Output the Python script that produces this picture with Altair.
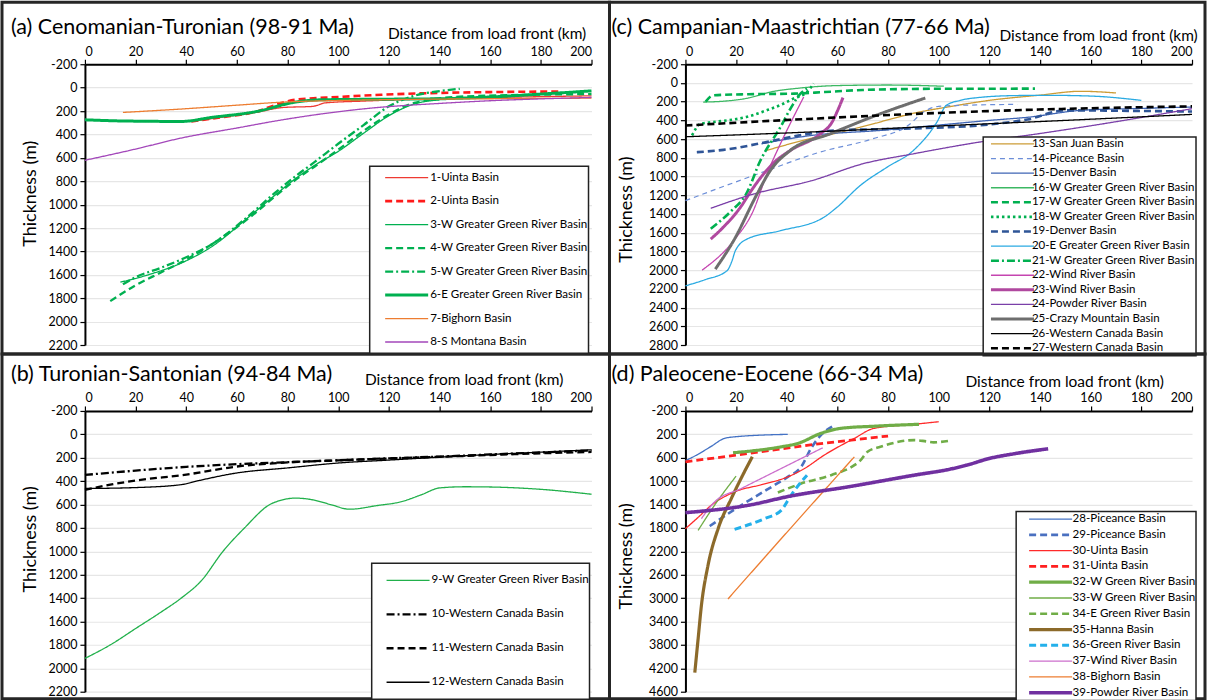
import altair as alt
import pandas as pd

FONT = "Lato"
X_TICKS = [0, 20, 40, 60, 80, 100, 120, 140, 160, 180, 200]
X_TITLE = "Distance from load front (km)"
Y_TITLE = "Thickness (m)"

# ---------------- Panel (a) ----------------
A_TITLE = "(a) Cenomanian-Turonian (98-91 Ma)"
A_NAMES = ["1-Uinta Basin", "2-Uinta Basin", "3-W Greater Green River Basin",
           "4-W Greater Green River Basin", "5-W Greater Green River Basin",
           "6-E Greater Green River Basin", "7-Bighorn Basin", "8-S Montana Basin"]
s01_x = [42, 55, 68, 78, 90, 95, 110, 130, 160, 200]
s01_y = [289, 250, 210, 170, 160, 130, 115, 100, 85, 70]
s02_x = [42, 55, 68, 75, 83, 100, 117, 140, 160, 187]
s02_y = [289, 250, 203, 150, 104, 80, 61, 45, 38, 33]
s03_x = [14, 25, 40, 50, 65, 75, 83, 91, 100, 110, 120, 130, 140]
s03_y = [1663, 1600, 1480, 1360, 1100, 920, 780, 660, 545, 390, 240, 140, 105]
s04_x = [10, 20, 30, 40, 50, 65, 75, 83, 91, 100, 110, 120, 130, 150, 200]
s04_y = [1825, 1690, 1580, 1470, 1340, 1110, 930, 790, 670, 530, 370, 230, 130, 75, 55]
s05_x = [15, 20, 30, 40, 50, 65, 75, 83, 91, 100, 110, 120, 130, 140, 148]
s05_y = [1680, 1620, 1540, 1450, 1340, 1090, 900, 760, 630, 480, 320, 160, 70, 30, 10]
s06_x = [0, 15, 38, 50, 68, 83, 93, 117, 140, 160, 180, 200]
s06_y = [275, 285, 289, 255, 203, 124, 104, 99, 95, 80, 55, 28]
s07_x = [15, 40, 60, 78, 100, 130, 160, 200]
s07_y = [212, 180, 150, 124, 110, 100, 95, 90]
s08_x = [0, 20, 38, 60, 78, 95, 113, 140, 160, 180, 200]
s08_y = [621, 525, 431, 345, 275, 220, 175, 135, 112, 96, 84]
A_COLORS = ["#ee3a32", "#ff1a1a", "#00b050", "#00b050", "#00b050", "#00b050", "#ed7d31", "#a347ba"]
A_DASHES = [[1, 0], [7, 4], [1, 0], [7, 4], [8, 3, 2, 3], [1, 0], [1, 0], [1, 0]]
A_WIDTHS = [1.3, 2.6, 1.3, 2.3, 2.3, 3.0, 1.3, 1.3]

# ---------------- Panel (b) ----------------
B_TITLE = "(b) Turonian-Santonian (94-84 Ma)"
B_NAMES = ["9-W Greater Green River Basin", "10-Western Canada Basin",
           "11-Western Canada Basin", "12-Western Canada Basin"]
s09_x = [0, 10, 20, 30, 38, 46, 54.5, 63, 73, 78, 83, 90, 97, 104.5, 115, 125, 133, 140, 150, 160, 180, 200]
s09_y = [1915, 1800, 1660, 1520, 1400, 1250, 1000, 800, 600, 560, 545, 560, 600, 640, 610, 575, 515, 458, 448, 450, 470, 512]
s10_x = [0, 20, 40, 60, 80, 100, 120, 140, 160, 180, 200]
s10_y = [347, 310, 278, 255, 238, 222, 205, 190, 172, 155, 137]
s11_x = [0, 10, 20, 40, 60, 80, 100, 120, 140, 160, 180, 200]
s11_y = [475, 430, 395, 344, 275, 240, 222, 207, 192, 177, 162, 150]
s12_x = [0, 20, 38, 45, 60, 80, 100, 120, 140, 160, 180, 200]
s12_y = [463, 455, 430, 395, 330, 287, 245, 220, 195, 172, 152, 132]
B_COLORS = ["#21b04b", "#000000", "#000000", "#000000"]
B_DASHES = [[1, 0], [8, 3, 2, 3], [7, 4], [1, 0]]
B_WIDTHS = [1.3, 2.3, 2.3, 1.3]

# ---------------- Panel (c) ----------------
C_TITLE = "(c) Campanian-Maastrichtian (77-66 Ma)"
C_NAMES = ["13-San Juan Basin", "14-Piceance Basin", "15-Denver Basin",
           "16-W Greater Green River Basin", "17-W Greater Green River Basin",
           "18-W Greater Green River Basin", "19-Denver Basin",
           "20-E Greater Green River Basin", "21-W Greater Green River Basin",
           "22-Wind River Basin", "23-Wind River Basin", "24-Powder River Basin",
           "25-Crazy Mountain Basin", "26-Western Canada Basin", "27-Western Canada Basin"]
s13_x = [32, 40, 50, 59, 75, 89.5, 105, 120, 140, 156, 170]
s13_y = [721, 660, 590, 540, 430, 327, 250, 186, 130, 89, 107]
s14_x = [0, 29, 53, 74, 88, 94, 100, 115, 131]
s14_y = [1257, 968, 740, 596, 453, 311, 250, 235, 229]
s15_x = [30, 50, 77, 100, 120, 136, 156, 180, 200]
s15_y = [650, 560, 507, 450, 400, 364, 293, 272, 257]
s16_x = [7, 15, 25, 33.5, 45, 60, 80, 102]
s16_y = [204, 195, 160, 97, 55, 28, 22, 35]
s17_x = [8, 11, 25, 43, 55, 70, 100, 138]
s17_y = [200, 132, 120, 114, 97, 75, 62, 61]
s18_x = [2.6, 6, 11, 24, 32, 38, 42.6, 48, 50.6]
s18_y = [561, 436, 418, 364, 293, 230, 168, 97, 7]
s19_x = [4.5, 15, 32, 45, 59, 75, 90, 120, 135, 150, 175, 200]
s19_y = [740, 715, 632, 560, 507, 495, 486, 443, 390, 293, 298, 305]
s20_x = [0, 8, 16.4, 18.4, 19.7, 24.3, 37.5, 54.6, 59.8, 69, 79.6, 90, 99.3, 103, 108.5, 116, 130, 143, 160, 180]
s20_y = [2168, 2100, 2007, 1900, 1793, 1668, 1579, 1436, 1329, 1096, 900, 721, 418, 239, 186, 155, 135, 132, 140, 186]
s21_x = [10, 18, 24, 29.6, 37.5, 42, 45.4, 48]
s21_y = [1557, 1370, 1186, 829, 472, 250, 114, 61]
s22_x = [6.6, 19, 26.8, 32.2, 37.5, 42, 46.7]
s22_y = [2000, 1686, 1364, 971, 650, 400, 150]
s23_x = [10, 15, 21.7, 26, 30.9, 35, 41.4, 53.3, 57.9, 60, 62.2]
s23_y = [1668, 1540, 1329, 1150, 971, 850, 721, 543, 418, 300, 157]
s24_x = [10, 27, 50, 70, 90, 116, 140, 165, 200]
s24_y = [1339, 1186, 1043, 864, 757, 632, 540, 436, 275]
s25_x = [11.8, 19, 28.3, 33.5, 41.4, 57.2, 77, 94.7]
s25_y = [1989, 1686, 1186, 936, 721, 543, 329, 161]
s26_x = [0, 64, 100, 150, 200]
s26_y = [575, 507, 460, 400, 336]
s27_x = [0, 50, 116, 160, 200]
s27_y = [455, 382, 304, 270, 250]
C_COLORS = ["#cc9c36", "#6c8ed8", "#3e64b4", "#3cb863", "#00b050", "#00b050", "#2f5597",
            "#2aaae2", "#00b050", "#c545b0", "#b0489f", "#7a3fa8", "#6e6e6e", "#000000", "#000000"]
C_DASHES = [[1, 0], [5, 4], [1, 0], [1, 0], [7, 4], [2.5, 3], [7, 4], [1, 0], [8, 3, 2, 3],
            [1, 0], [1, 0], [1, 0], [1, 0], [1, 0], [7, 4]]
C_WIDTHS = [1.3, 1.2, 1.3, 1.3, 2.6, 2.6, 2.6, 1.3, 2.6, 1.3, 3.0, 1.3, 3.0, 1.3, 2.6]

# ---------------- Panel (d) ----------------
D_TITLE = "(d) Paleocene-Eocene (66-34 Ma)"
D_NAMES = ["28-Piceance Basin", "29-Piceance Basin", "30-Uinta Basin", "31-Uinta Basin",
           "32-W Green River Basin", "33-W Green River Basin", "34-E Green River Basin",
           "35-Hanna Basin", "36-Green River Basin", "37-Wind River Basin",
           "38-Bighorn Basin", "39-Powder River Basin"]
s28_x = [0, 5, 10, 15.5, 20, 40.4]
s28_y = [650, 540, 410, 268, 240, 200]
s29_x = [9.6, 22, 32, 40.4, 45.7, 49.6, 53.5, 57.9]
s29_y = [1768, 1413, 1150, 927, 756, 440, 212, 69]
s30_x = [0, 5, 10.2, 19.4, 30, 40.4, 47, 54.8, 66.7, 74.5, 90.3, 100]
s30_y = [1813, 1620, 1413, 1184, 1060, 927, 784, 555, 268, 97, 28, -16]
s31_x = [0, 25, 51, 80]
s31_y = [670, 526, 372, 229]
s32_x = [18.8, 37.8, 44.4, 53.5, 61.4, 75, 92.2]
s32_y = [515, 413, 355, 183, 97, 60, 28]
s33_x = [5, 12, 20]
s33_y = [1842, 1380, 915]
s34_x = [36.5, 45.7, 57.5, 66.7, 69, 71.9, 77, 90.3, 95, 98, 104]
s34_y = [1195, 1041, 898, 727, 650, 498, 413, 298, 320, 337, 310]
s35_x = [3.7, 5, 6.3, 8.9, 12.9, 18.1, 22, 26.4]
s35_y = [4273, 3700, 3129, 2443, 1813, 1298, 950, 584]
s36_x = [19.4, 31.2, 37.8, 41.7, 45.7, 48]
s36_y = [1825, 1641, 1499, 1241, 1013, 898]
s37_x = [6.3, 11.5, 22, 37.8, 54.2]
s37_y = [1641, 1356, 1127, 784, 430]
s38_x = [16.8, 37.8, 66.7]
s38_y = [3014, 1985, 584]
s39_x = [0, 24.7, 41.7, 64, 90.3, 105, 111, 120, 130, 143.2]
s39_y = [1539, 1413, 1253, 1099, 898, 790, 727, 612, 530, 447]
D_COLORS = ["#4472c4", "#4a70c0", "#ff2a2a", "#ff2020", "#70ad47", "#70ad47", "#70ad47",
            "#8c6a2a", "#24b0ea", "#cc6fcc", "#ed7d31", "#7030a0"]
D_DASHES = [[1, 0], [7, 4], [1, 0], [7, 4], [1, 0], [1, 0], [7, 4], [1, 0], [7, 4],
            [1, 0], [1, 0], [1, 0]]
D_WIDTHS = [1.3, 2.6, 1.3, 2.8, 3.2, 1.3, 2.6, 3.2, 3.0, 1.3, 1.3, 3.6]

A_TICKS = list(range(-200, 2201, 200))
C_TICKS = list(range(-200, 2801, 200))
D_TICKS = list(range(-200, 4601, 400))

SYMBOL = "M-2.69,0H2.69"


def build_df(names, xs_list, ys_list):
    rows = []
    for n, xs, ys in zip(names, xs_list, ys_list):
        for x, y in zip(xs, ys):
            rows.append({"series": n, "km": x, "thk": y})
    return pd.DataFrame(rows)


def make_panel(title, names, xs_list, ys_list, colors, dashes, widths, ydom, yticks,
               xt, yt, leg, border):
    df = build_df(names, xs_list, ys_list)
    lines = alt.Chart(df).mark_line(interpolate="monotone").encode(
        x=alt.X("km:Q", scale=alt.Scale(domain=[0, 200], nice=False, zero=False),
                axis=alt.Axis(orient="top", values=X_TICKS, title=X_TITLE, grid=False,
                              titleX=xt[0], titleY=xt[1], titleAlign="center",
                              titleBaseline="middle", titleFontSize=15.5,
                              labelPadding=1)),
        y=alt.Y("thk:Q", scale=alt.Scale(domain=ydom, reverse=True, nice=False, zero=False),
                axis=alt.Axis(values=yticks, labelExpr="'' + datum.value", title=Y_TITLE,
                              grid=True, titleX=yt[0], titleY=yt[1], titleAngle=270,
                              titleAlign="center", titleBaseline="middle",
                              titleFontSize=18, labelPadding=3)),
        color=alt.Color("series:N", scale=alt.Scale(domain=names, range=colors),
                        legend=alt.Legend(title=None, orient="none", direction="vertical",
                                          legendX=leg["x"], legendY=leg["y"],
                                          symbolType=SYMBOL, symbolSize=256,
                                          symbolOffset=leg["so"], labelOffset=leg["lo"],
                                          clipHeight=leg["ch"], rowPadding=leg["rp"],
                                          padding=0,
                                          labelFontSize=leg["fs"], labelFont=FONT,
                                          labelColor="black", labelLimit=400,
                                          fillColor="white", strokeColor="#222222")),
        strokeDash=alt.StrokeDash("series:N", scale=alt.Scale(domain=names, range=dashes)),
        strokeWidth=alt.StrokeWidth("series:N",
                                    scale=alt.Scale(type="ordinal", domain=names, range=widths)),
    )
    frame = alt.Chart(pd.DataFrame({"k": [0]})).mark_rect(
        fill="transparent", stroke="#262626", strokeWidth=3
    ).encode(x=alt.value(border[0]), x2=alt.value(border[1]),
             y=alt.value(border[2]), y2=alt.value(border[3]))
    head = alt.Chart(pd.DataFrame({"t": [title]})).mark_text(
        align="left", baseline="middle", fontSize=21.5, font=FONT, color="black"
    ).encode(text="t:N", x=alt.value(-74), y=alt.value(-36))
    return alt.layer(frame, head, lines).properties(width=507, height=281)


pa = make_panel(A_TITLE, A_NAMES,
                [s01_x, s02_x, s03_x, s04_x, s05_x, s06_x, s07_x, s08_x],
                [s01_y, s02_y, s03_y, s04_y, s05_y, s06_y, s07_y, s08_y],
                A_COLORS, A_DASHES, A_WIDTHS, [-200, 2200], A_TICKS,
                (402, -31), (-54, 129),
                {"x": 285, "y": 102, "so": 27.5, "lo": 14, "ch": 23, "rp": 0.5, "fs": 11.6},
                (-83, 525, -62, 290))
pc = make_panel(C_TITLE, C_NAMES,
                [s13_x, s14_x, s15_x, s16_x, s17_x, s18_x, s19_x, s20_x, s21_x, s22_x,
                 s23_x, s24_x, s25_x, s26_x, s27_x],
                [s13_y, s14_y, s15_y, s16_y, s17_y, s18_y, s19_y, s20_y, s21_y, s22_y,
                 s23_y, s24_y, s25_y, s26_y, s27_y],
                C_COLORS, C_DASHES, C_WIDTHS, [-200, 2800], C_TICKS,
                (413, -29), (-59, 145),
                {"x": 298, "y": 72.8, "so": 19.8, "lo": 10, "ch": 14, "rp": 0.6, "fs": 11.5},
                (-76, 520, -62, 290))
pb = make_panel(B_TITLE, B_NAMES,
                [s09_x, s10_x, s11_x, s12_x], [s09_y, s10_y, s11_y, s12_y],
                B_COLORS, B_DASHES, B_WIDTHS, [-200, 2200], A_TICKS,
                (379, -31), (-54, 128),
                {"x": 287, "y": 152.5, "so": 26.9, "lo": 14, "ch": 34, "rp": 0, "fs": 11.6},
                (-83, 525, -57, 288))
pd_ = make_panel(D_TITLE, D_NAMES,
                 [s28_x, s29_x, s30_x, s31_x, s32_x, s33_x, s34_x, s35_x, s36_x, s37_x,
                  s38_x, s39_x],
                 [s28_y, s29_y, s30_y, s31_y, s32_y, s33_y, s34_y, s35_y, s36_y, s37_y,
                  s38_y, s39_y],
                 D_COLORS, D_DASHES, D_WIDTHS, [-200, 4600], D_TICKS,
                 (379, -29), (-59, 145),
                 {"x": 331, "y": 100.7, "so": 24.5, "lo": 12, "ch": 15, "rp": 0.8, "fs": 11.6},
                 (-76, 520, -57, 288))

chart = alt.concat(pa, pc, pb, pd_, columns=2, spacing={"row": 66, "column": 94},
                   bounds="flush").resolve_scale(
    x="independent", y="independent", color="independent",
    strokeDash="independent", strokeWidth="independent"
).resolve_legend(
    color="independent", strokeDash="independent", strokeWidth="independent"
).properties(padding=0, background="white").configure_view(
    stroke="transparent"
).configure_axis(
    labelFont=FONT, titleFont=FONT, labelFontSize=12.5, labelColor="black",
    titleColor="black", titleFontWeight="normal", domainColor="black", domainWidth=2,
    tickColor="black", tickSize=5, tickWidth=1.2, gridColor="#e6e6e6", gridWidth=1.2
).configure_legend(strokeWidth=1.5)

chart.save("out.html", embed_options={"renderer": "svg", "actions": False})
